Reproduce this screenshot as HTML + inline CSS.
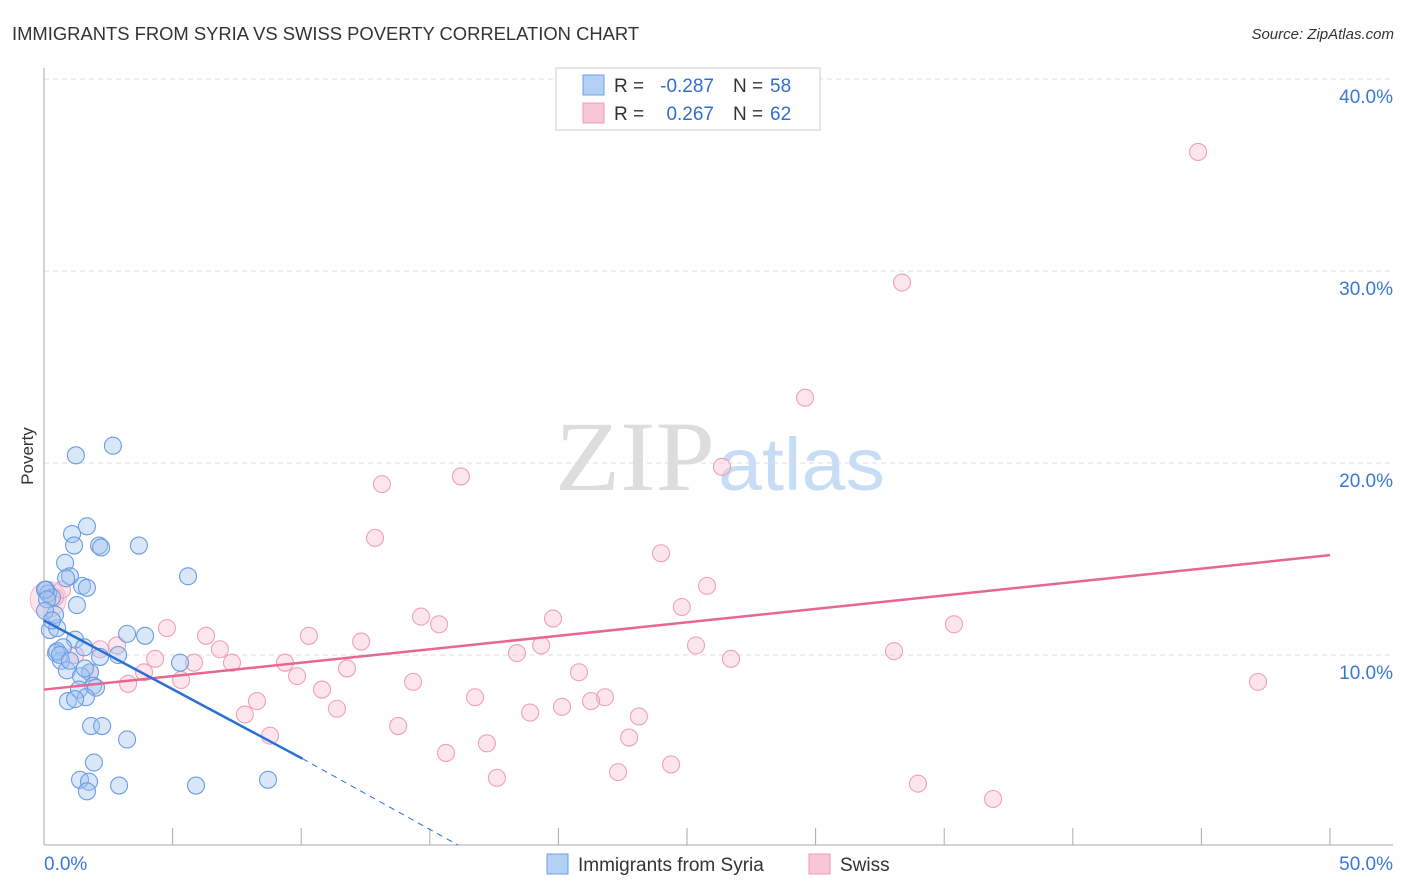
<!DOCTYPE html>
<html><head><meta charset="utf-8"><style>
body{margin:0;background:#fff;font-family:"Liberation Sans",sans-serif;}
svg{display:block}
</style></head><body>
<svg id="chart" width="1406" height="892" xmlns="http://www.w3.org/2000/svg">
<text x="12" y="40" font-size="18.4" fill="#333">IMMIGRANTS FROM SYRIA VS SWISS POVERTY CORRELATION CHART</text>
<text x="1394" y="39" font-size="15" font-style="italic" fill="#333" text-anchor="end">Source: ZipAtlas.com</text>
<text x="715" y="490" font-size="100" text-anchor="end" fill="#ddd" font-family="Liberation Serif" textLength="160" lengthAdjust="spacingAndGlyphs">ZIP</text>
<text x="718" y="490" font-size="74" fill="#c7dcf5" textLength="167" lengthAdjust="spacingAndGlyphs">atlas</text>
<text x="33" y="456" font-size="17" fill="#333" text-anchor="middle" transform="rotate(-90 33 456)">Poverty</text>
<g id="grid"></g><g id="marks"></g>
<g font-size="19">
<rect x="556" y="68" width="264" height="62" fill="#fff" stroke="#ccc"/>
<rect x="583" y="75" width="21" height="20" fill="#b5d0f5" stroke="#6d9fe4"/>
<rect x="583" y="103" width="21" height="20" fill="#f9c6d6" stroke="#f09ab7"/>
<text x="614" y="92" fill="#333">R =</text>
<text x="714" y="92" fill="#2f6fd0" text-anchor="end">-0.287</text>
<text x="733" y="92" fill="#333">N =</text>
<text x="770" y="92" fill="#2f6fd0">58</text>
<text x="614" y="120" fill="#333">R =</text>
<text x="714" y="120" fill="#2f6fd0" text-anchor="end">0.267</text>
<text x="733" y="120" fill="#333">N =</text>
<text x="770" y="120" fill="#2f6fd0">62</text>
</g>
<g>
<rect x="547" y="854" width="21" height="20" fill="#b5d0f5" stroke="#6d9fe4"/>
<text x="578" y="871" font-size="19" fill="#333">Immigrants from Syria</text>
<rect x="809" y="854" width="21" height="20" fill="#f9c6d6" stroke="#f09ab7"/>
<text x="840" y="871" font-size="19" fill="#333">Swiss</text>
</g>
</svg>
<script>
const blueX=[2.68,1.24,1.67,1.09,1.17,2.14,2.22,3.69,0.82,1.01,0.86,5.60,1.48,1.67,0.08,0.16,0.31,1.28,0.23,0.51,3.23,3.93,1.21,1.56,0.74,0.47,2.18,2.88,5.29,0.66,0.89,1.79,1.44,1.91,2.02,1.36,1.63,0.93,1.83,2.26,3.23,1.94,1.40,1.75,1.67,2.92,5.91,8.71,0.43,0.04,0.51,0.12,0.62,0.04,1.01,1.59,0.31,1.21];
const blueY=[20.9,20.4,16.7,16.3,15.7,15.7,15.6,15.7,14.8,14.1,14.0,14.1,13.6,13.5,13.4,13.2,13.0,12.6,11.3,11.4,11.1,11.0,10.8,10.4,10.4,10.1,9.9,10.0,9.6,9.7,9.2,9.1,8.9,8.4,8.3,8.2,7.8,7.6,6.3,6.3,5.6,4.4,3.5,3.4,2.9,3.2,3.2,3.5,12.1,13.4,10.2,12.9,10.0,12.3,9.7,9.3,11.8,7.7];
const pinkX=[44.87,33.36,29.59,26.36,16.21,13.14,12.87,23.99,25.78,24.80,14.66,15.36,19.79,35.38,4.78,6.30,10.30,12.33,6.84,2.84,25.35,33.05,18.39,19.33,4.32,5.83,7.31,9.37,11.78,26.71,1.79,3.89,20.80,9.84,5.33,3.27,14.35,10.81,47.20,16.76,8.28,21.81,21.27,11.39,20.14,18.90,7.81,23.13,13.77,8.79,22.75,17.22,15.63,24.38,17.61,22.32,33.98,36.90,0.43,0.70,2.18,1.21];
const pinkY=[36.2,29.4,23.4,19.8,19.3,18.9,16.1,15.3,13.6,12.5,12.0,11.6,11.9,11.6,11.4,11.0,11.0,10.7,10.3,10.5,10.5,10.2,10.1,10.5,9.8,9.6,9.6,9.6,9.3,9.8,9.1,9.1,9.1,8.9,8.7,8.5,8.6,8.2,8.6,7.8,7.6,7.8,7.6,7.2,7.3,7.0,6.9,6.8,6.3,5.8,5.7,5.4,4.9,4.3,3.6,3.9,3.3,2.5,13.0,13.4,10.3,10.0];
const blueTrend=[[0,11.8],[10.05,4.6]], blueTrendExt=[[10.05,4.6],[16.1,0.1]];
const pinkTrend=[[0,8.2],[50,15.2]];
const yTicks=[10,20,30,40], yTickLabels=["10.0%","20.0%","30.0%","40.0%"];
const xTicks=[0,5,10,15,20,25,30,35,40,45,50];
const xs=v=>44+v/50*1286, ys=v=>847-v*19.2;
const NS="http://www.w3.org/2000/svg";
function mk(p,t,a){const e=document.createElementNS(NS,t);for(const k in a)e.setAttribute(k,a[k]);p.appendChild(e);return e;}
const g=document.getElementById('grid'), m=document.getElementById('marks');
yTicks.forEach((t,i)=>{
 const l=mk(g,'line',{x1:44,x2:1393,y1:ys(t),y2:ys(t),stroke:'#ddd','stroke-dasharray':'5,4'});
 
 
 const tx=mk(g,'text',{x:1393,y:ys(t)+24,'font-size':19,fill:'#3a78d4','text-anchor':'end'});
 tx.textContent=yTickLabels[i];
 
 
});
const ax=mk(g,'line',{x1:44,x2:44,y1:68,y2:845,stroke:'#aaa'});


const bx=mk(g,'line',{x1:44,x2:1393,y1:845,y2:845,stroke:'#aaa'});


xTicks.forEach(t=>{
 const l=mk(g,'line',{x1:xs(t),x2:xs(t),y1:828,y2:845,stroke:'#aaa'});
 
 
});
[["0.0%",44,'start'],["50.0%",1393,'end']].forEach(d=>{
 const tx=mk(g,'text',{x:d[1],y:870,'font-size':19,fill:'#3a78d4','text-anchor':d[2]});
 tx.textContent=d[0];
 
 
});
const big=mk(m,'circle',{cx:xs(0.16),cy:ys(12.9),r:18,fill:'rgba(248,190,210,0.4)',stroke:'rgba(238,143,176,0.6)'});


pinkX.forEach((x,i)=>{
 const c=mk(m,'circle',{cx:xs(x),cy:ys(pinkY[i]),r:8.5,fill:'rgba(248,190,210,0.4)',stroke:'#efa0bc','stroke-width':1.1});
 
 
});
blueX.forEach((x,i)=>{
 const c=mk(m,'circle',{cx:xs(x),cy:ys(blueY[i]),r:8.5,fill:'rgba(160,196,240,0.4)',stroke:'#6b9de2','stroke-width':1.1});
 
 
});
function ln(p,cls,st,dash,w){const l=mk(m,'line',{x1:xs(p[0][0]),y1:ys(p[0][1]),x2:xs(p[1][0]),y2:ys(p[1][1]),stroke:st,'stroke-width':w});if(dash)l.setAttribute('stroke-dasharray',dash);}
ln(pinkTrend,'swiss-trend-line','#e8668f',null,2.5);
ln(blueTrend,'syria-trend-line','#2a6fd4',null,2.5);
ln(blueTrendExt,'syria-trend-extension','#2a6fd4','6,5',1);
</script>
</body></html>
